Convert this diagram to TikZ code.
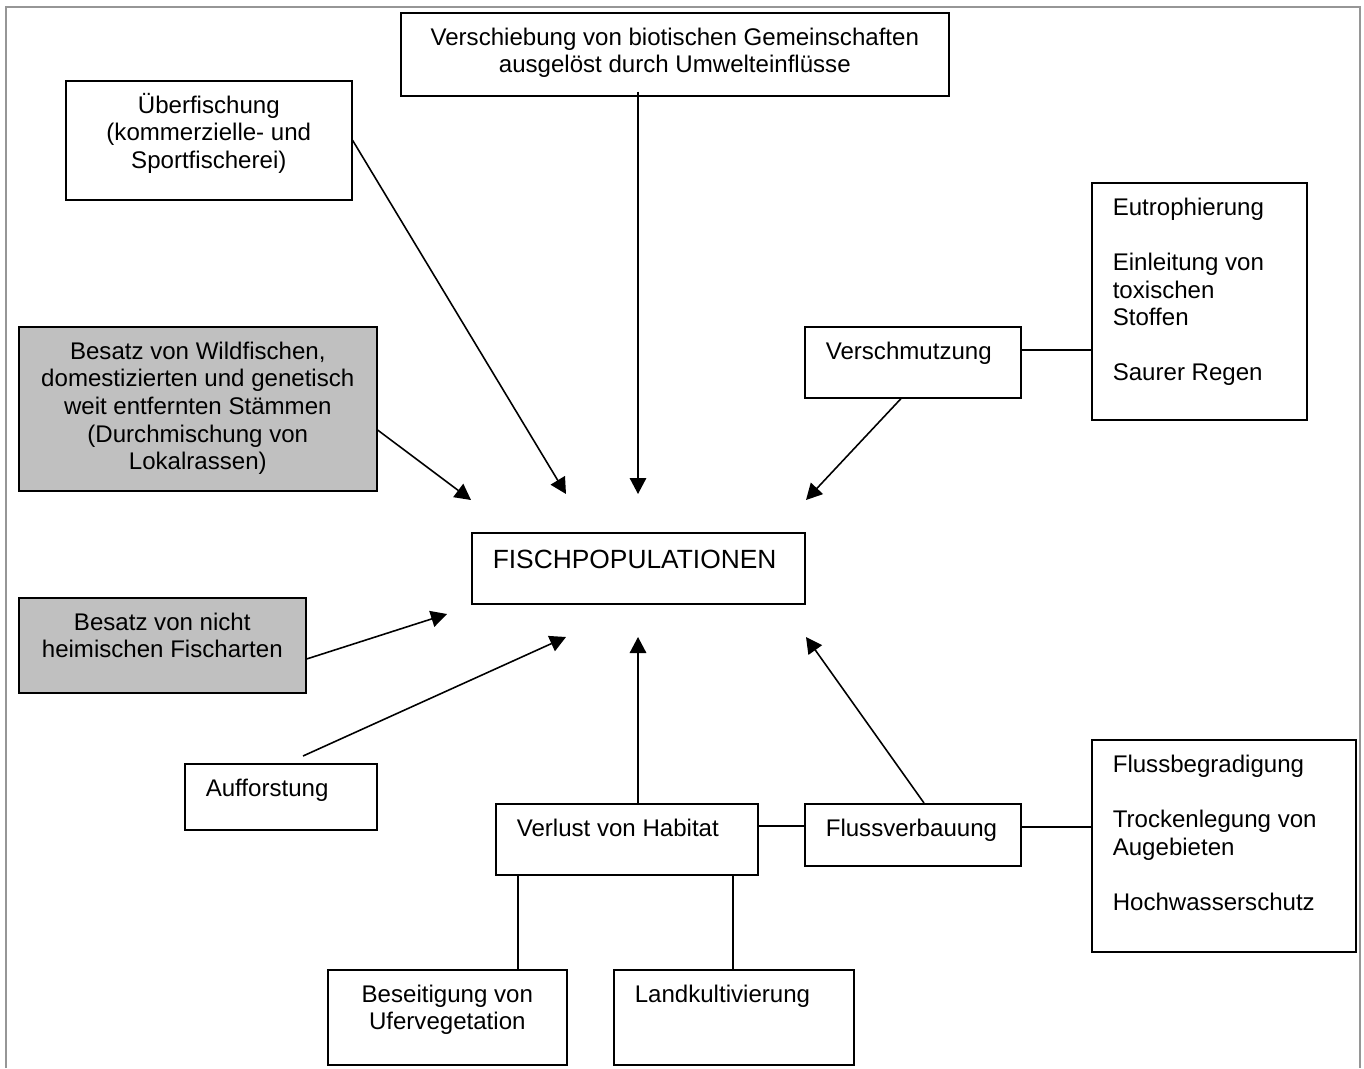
\documentclass[tikz,border=0pt]{standalone}
\usepackage{fontspec}
\setmainfont{Liberation Sans}
\usetikzlibrary{arrows.meta}
\usetikzlibrary{calc}

\definecolor{boxgray}{RGB}{192,192,192}
\definecolor{framegray}{RGB}{150,150,150}

% box contents: width, height in px, text on top
\newcommand{\cbox}[3]{\parbox[t][\dimexpr0.02cm*#2\relax][t]{\dimexpr0.02cm*#1\relax}{\centering\rule{0pt}{0.65cm}#3}}
\newcommand{\lbox}[3]{\parbox[t][\dimexpr0.02cm*#2\relax][t]{\dimexpr0.02cm*#1\relax}{\raggedright\leftskip=0.42cm\rule{0pt}{0.65cm}#3}}

\tikzset{
  box/.style={draw, line width=0.9pt, inner sep=0pt, anchor=north west, fill=white,
    font=\fontsize{13.7pt}{15.7pt}\selectfont},
  graybox/.style={box, fill=boxgray},
  link/.style={line width=0.9pt}
}

\begin{document}
\begin{tikzpicture}[x=0.02cm, y=-0.02cm, >={Triangle[length=3.2mm,width=3.3mm]}]

% page and frame
\useasboundingbox (0,0) rectangle (1364,1068);
\fill[white] (0,0) rectangle (1364,1068);
\draw[framegray, line width=0.9pt] (6,1068) -- (6,7) -- (1360,7) -- (1360,1068);

% boxes
\node[box] (verschiebung) at (400,12) {\cbox{548}{83}{Verschiebung von biotischen Gemeinschaften\\ausgelöst durch Umwelteinflüsse}};
\node[box] (ueberfischung) at (65,80) {\cbox{286}{119}{Überfischung\\(kommerzielle- und\\Sportfischerei)}};
\node[graybox] (besatzWild) at (18,326) {\cbox{358}{164}{Besatz von Wildfischen,\\domestizierten und genetisch\\weit entfernten Stämmen\\(Durchmischung von\\Lokalrassen)}};
\node[box] (eutro) at (1091,182) {\lbox{215}{237}{Eutrophierung\\[\baselineskip]Einleitung von\\toxischen\\Stoffen\\[\baselineskip]Saurer Regen}};
\node[box] (verschmutzung) at (804,326) {\lbox{216}{71}{Verschmutzung}};
\node[box, font=\fontsize{15pt}{17pt}\selectfont] (fisch) at (471,532) {\lbox{333}{71}{\rule{0pt}{0.71cm}FISCHPOPULATIONEN}};
\node[graybox] (besatzNicht) at (18,597) {\cbox{287}{95}{Besatz von nicht\\heimischen Fischarten}};
\node[box] (aufforstung) at (184,763) {\lbox{192}{66}{Aufforstung}};
\node[box] (habitat) at (495,803) {\lbox{262}{71}{Verlust von Habitat}};
\node[box] (flussverbauung) at (804,803) {\lbox{216}{62}{Flussverbauung}};
\node[box] (flussliste) at (1091,739) {\lbox{264}{212}{Flussbegradigung\\[\baselineskip]Trockenlegung von\\Augebieten\\[\baselineskip]Hochwasserschutz}};
\node[box] (beseitigung) at (327,969) {\cbox{239}{95}{Beseitigung von\\Ufervegetation}};
\node[box] (landkult) at (613,969) {\lbox{240}{95}{Landkultivierung}};

% arrow tips round the center box
\coordinate (tipUeber) at (566,494);
\coordinate (tipVer) at (638,494);
\coordinate (tipWild) at (471,500);
\coordinate (tipSchmutz) at (806,500);
\coordinate (tipNicht) at (447,614);
\coordinate (tipAuff) at (566,637);
\coordinate (tipHab) at (638,637);
\coordinate (tipFluss) at (806,637);

% arrows
\draw[link,->] (ueberfischung.east) -- (tipUeber);
\draw[link,->] (verschiebung.south -| tipVer) ++(0,-5) -- (tipVer);
\draw[link,->] (besatzWild.east |- 0,430) -- (tipWild);
\draw[link,->] (verschmutzung.south -| 901,0) -- (tipSchmutz);
\draw[link,->] (besatzNicht.east |- 0,659) -- (tipNicht);
\draw[link,->] (aufforstung.north -| 303,0) ++(0,-7) -- (tipAuff);
\draw[link,->] (habitat.north -| tipHab) -- (tipHab);
\draw[link,->] (flussverbauung.north -| 924,0) -- (tipFluss);

% plain links
\draw[link] (verschmutzung.east |- 0,350) -- (eutro.west |- 0,350);
\draw[link] (habitat.east |- 0,826) -- (flussverbauung.west |- 0,826);
\draw[link] (flussverbauung.east |- 0,827) -- (flussliste.west |- 0,827);
\draw[link] (habitat.south -| 518,0) -- (beseitigung.north -| 518,0);
\draw[link] (habitat.south -| 733,0) -- (landkult.north -| 733,0);

\end{tikzpicture}
\end{document}
